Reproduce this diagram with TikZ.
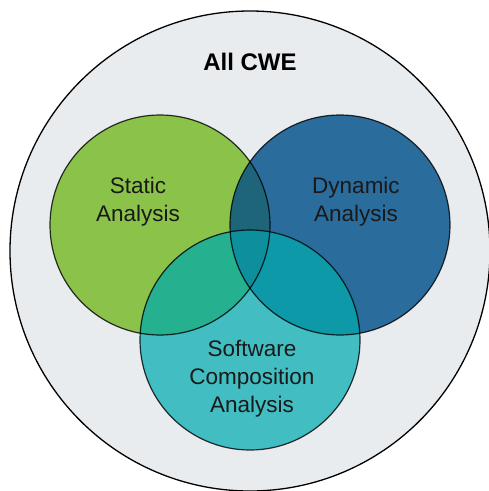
\documentclass[tikz,border=0pt]{standalone}
\usepackage{fontspec}
\setmainfont{Liberation Sans}
\definecolor{cwebg}{HTML}{E9ECEF}
\definecolor{sacol}{HTML}{8AC24A}
\definecolor{dacol}{HTML}{2A6C9C}
\definecolor{scacol}{HTML}{42BDC2}
\definecolor{sadacol}{HTML}{1E6579}
\definecolor{sascacol}{HTML}{25B090}
\definecolor{dascacol}{HTML}{0E99A9}
\definecolor{allcol}{HTML}{0D8F9D}
\tikzset{
  ring/.style={draw=black, line width=1.2pt, draw opacity=0.8},
  label/.style={align=center, text=black!90, font=\fontsize{22.5}{28}\selectfont},
  title/.style={text=black, font=\bfseries\fontsize{24}{28}\selectfont}
}
\begin{document}
\begin{tikzpicture}[x=1pt,y=-1pt]
\useasboundingbox (0,0) rectangle (489,491);
\fill[white] (0,0) rectangle (489,491);
% outer set of all CWE
\draw[fill=cwebg, line width=1.3pt] (250,251) circle[radius=240pt];
% centres of the three analysis sets
\coordinate (cs) at (160,225);
\coordinate (cd) at (340,225);
\coordinate (cc) at (250,340);
% single regions
\fill[sacol] (cs) circle[radius=110pt];
\fill[dacol] (cd) circle[radius=110pt];
\fill[scacol] (cc) circle[radius=110pt];
% pairwise overlaps
\begin{scope}
  \clip (cs) circle[radius=110pt];
  \fill[sadacol] (cd) circle[radius=110pt];
  \fill[sascacol] (cc) circle[radius=110pt];
\end{scope}
\begin{scope}
  \clip (cd) circle[radius=110pt];
  \fill[dascacol] (cc) circle[radius=110pt];
\end{scope}
% triple overlap
\begin{scope}
  \clip (cs) circle[radius=110pt];
  \clip (cd) circle[radius=110pt];
  \fill[allcol] (cc) circle[radius=110pt];
\end{scope}
% outlines
\draw[ring] (cs) circle[radius=110pt];
\draw[ring] (cd) circle[radius=110pt];
\draw[ring] (cc) circle[radius=110pt];
% labels
\node[title] (allcwe) at (250,62) {All CWE};
\node[label] (static) at (138,202) {Static\\Analysis};
\node[label] (dynamic) at (356,202) {Dynamic\\Analysis};
\node[label] (sca) at (252,379) {Software\\Composition\\Analysis};
\end{tikzpicture}
\end{document}
